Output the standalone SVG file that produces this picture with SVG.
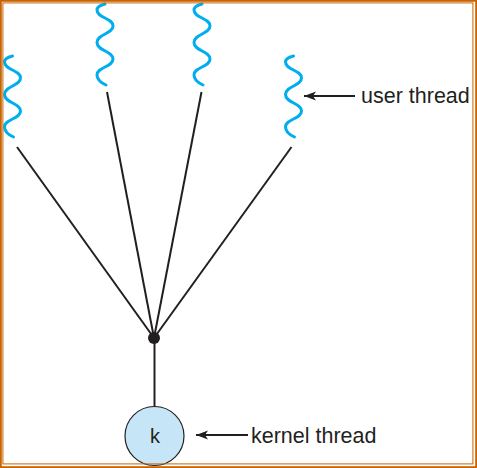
<svg xmlns="http://www.w3.org/2000/svg" width="477" height="468" viewBox="0 0 477 468">
<style>
.wave{fill:none;stroke:#00AEEF;stroke-width:3;stroke-linecap:round}
.conn{fill:none;stroke:#231F20;stroke-width:2}
.lbl{font-family:"Liberation Sans",Arial,sans-serif;font-size:21.5px;fill:#231F20}
.frame{fill:none;stroke:#C86400}
</style>
<defs>
<path id="w" d="M0,0 Q-8,2 -8,6 C-8,14 8,14 8,22 C8,30 -8,30 -8,38.5 C-8,47 8,47 8,55 C8,63 -8,63 -8,71 Q-8,77 1,81"/>
<marker id="ah" markerUnits="userSpaceOnUse" markerWidth="14" markerHeight="10" viewBox="0 -5 14 10" refX="12" refY="0" orient="auto">
<path d="M12,0 L0,-4.5 L3,0 L0,4.5 Z" fill="#231F20"/>
</marker>
</defs>
<rect width="477" height="468" fill="#fff"/>
<g id="connectors">
<line class="conn" x1="17" y1="147" x2="154" y2="338"/>
<line class="conn" x1="107" y1="92" x2="154" y2="338"/>
<line class="conn" x1="201.5" y1="92" x2="154" y2="338"/>
<line class="conn" x1="291.5" y1="147" x2="154" y2="338"/>
<line class="conn" x1="154.5" y1="338" x2="154.5" y2="407"/>
<line class="conn" x1="355" y1="96" x2="304" y2="96" marker-end="url(#ah)"/>
<line class="conn" x1="248" y1="435" x2="196" y2="435" marker-end="url(#ah)"/>
</g>
<g id="user-thread-1"><use href="#w" class="wave" transform="translate(12.5,56)"/></g>
<g id="user-thread-2"><use href="#w" class="wave" transform="translate(105,4)"/></g>
<g id="user-thread-3"><use href="#w" class="wave" transform="translate(202,4)"/></g>
<g id="user-thread-4"><use href="#w" class="wave" transform="translate(293.5,56)"/></g>
<g id="hub"><circle cx="154" cy="338" r="6" fill="#231F20"/></g>
<g id="kernel-thread">
<circle cx="154.5" cy="436" r="29.5" fill="#C6E6F7" stroke="#231F20" stroke-width="1.2"/>
<text x="155" y="443" text-anchor="middle" class="lbl" style="font-size:20px">k</text>
</g>
<g id="labels">
<text class="lbl" x="361" y="103">user thread</text>
<text class="lbl" x="251" y="443">kernel thread</text>
</g>
<rect class="frame" x="0.9" y="0.9" width="475.2" height="466.2" stroke-width="1.8"/>
<rect class="frame" x="2.9" y="2.9" width="470" height="461" stroke-width="1"/>
</svg>
